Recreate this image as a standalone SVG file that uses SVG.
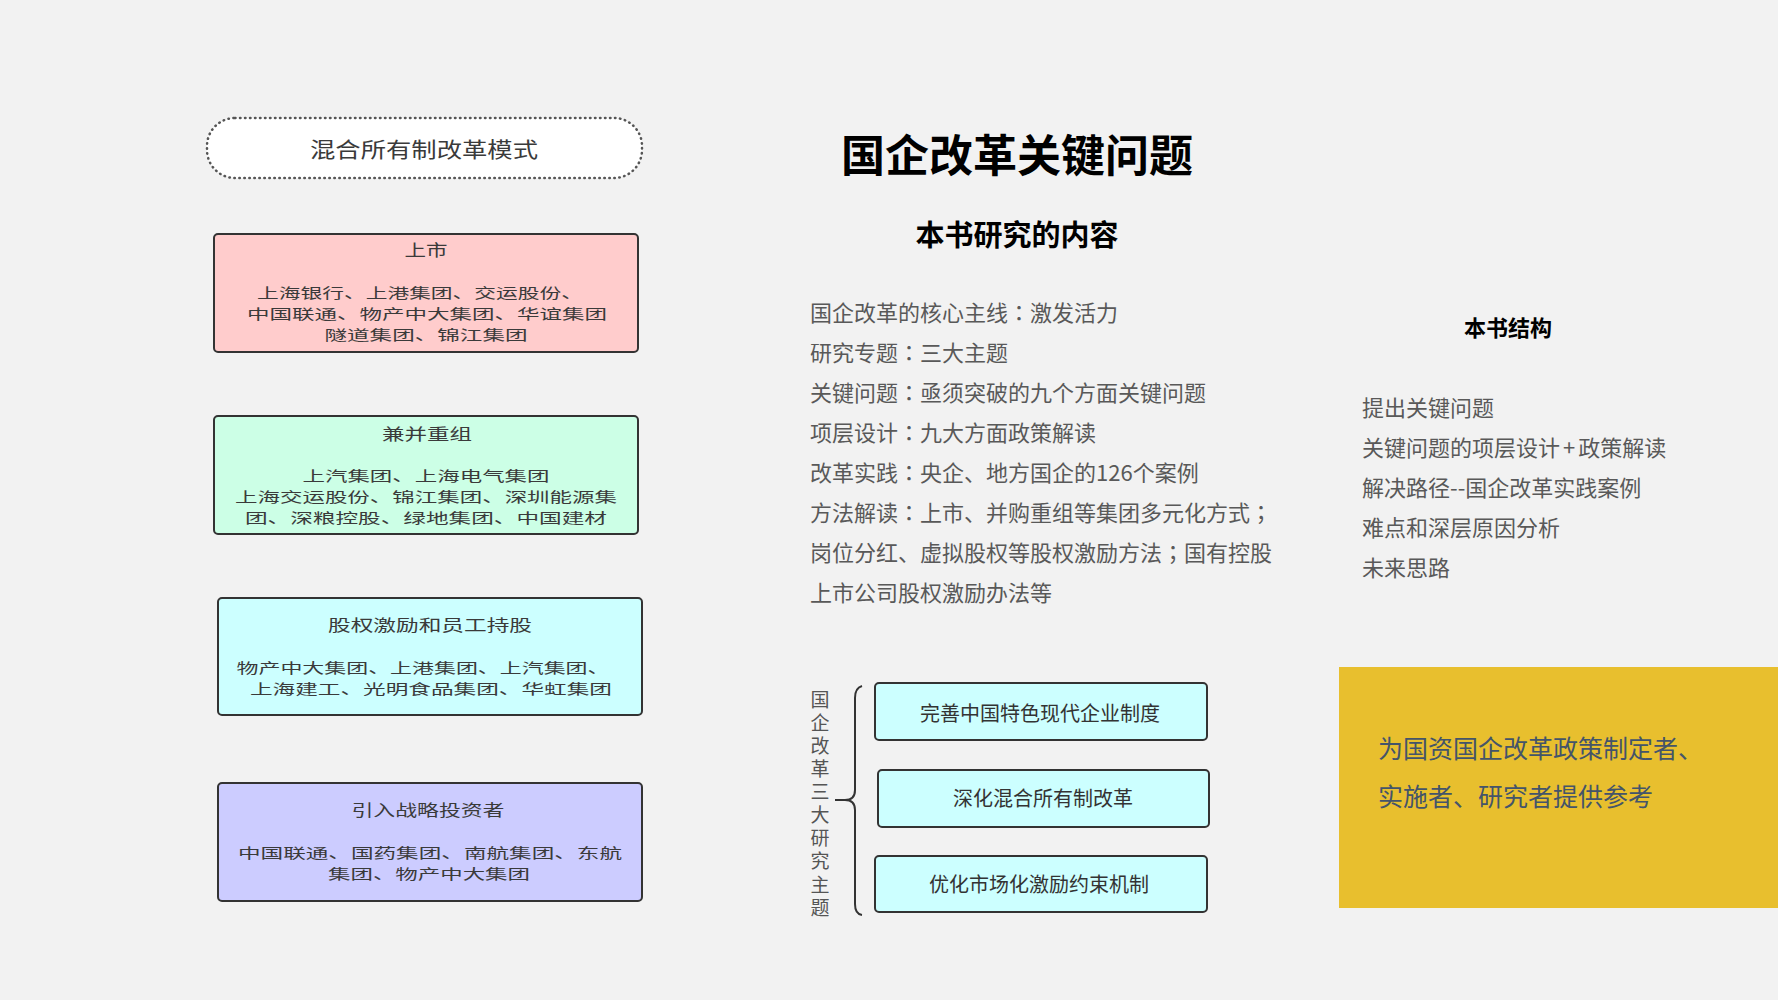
<svg xmlns="http://www.w3.org/2000/svg" width="1778" height="1000" viewBox="0 0 1778 1000">
<style>
.cjk{font-family:"Noto Sans CJK SC","Liberation Sans",sans-serif}
.tc{font-family:"Noto Sans CJK TC","Noto Sans CJK SC",sans-serif}
.box{stroke:#333;stroke-width:2}
.bt{font-size:14px;fill:#3a3a3a;text-anchor:middle}
.bh{font-size:16px;fill:#3a3a3a;text-anchor:middle}
.list{font-size:22px;fill:#595959}
.theme{font-size:20px;fill:#333;text-anchor:middle}
.vt{font-size:19px;fill:#555;writing-mode:vertical-rl;letter-spacing:4.1px}
</style>
<rect width="1778" height="1000" fill="#f2f2f2"/>

<g id="pill" class="cjk">
<rect x="207" y="118" width="435" height="60" rx="28" fill="#fff" stroke="#555" stroke-width="2.5" stroke-dasharray="0.5 4.5" stroke-linecap="round"/>
<text x="424" y="157" font-size="21" fill="#3a3a3a" text-anchor="middle" textLength="228" lengthAdjust="spacingAndGlyphs">混合所有制改革模式</text>
</g>

<g id="node-listing" class="cjk">
<rect class="box" x="214" y="234" width="424" height="118" rx="4" fill="#ffcccc"/>
<text class="bh" x="426" y="256" textLength="43" lengthAdjust="spacingAndGlyphs">上市</text>
<text class="bt" x="420" y="298" textLength="326" lengthAdjust="spacingAndGlyphs">上海银行、上港集团、交运股份、</text>
<text class="bt" x="427" y="319" textLength="360" lengthAdjust="spacingAndGlyphs">中国联通、物产中大集团、华谊集团</text>
<text class="bt" x="426" y="340" textLength="203" lengthAdjust="spacingAndGlyphs">隧道集团、锦江集团</text>
</g>

<g id="node-merge" class="cjk">
<rect class="box" x="214" y="416" width="424" height="118" rx="4" fill="#ccffe6"/>
<text class="bh" x="427" y="440" textLength="90" lengthAdjust="spacingAndGlyphs">兼并重组</text>
<text class="bt" x="426" y="481" textLength="247" lengthAdjust="spacingAndGlyphs">上汽集团、上海电气集团</text>
<text class="bt" x="426" y="502" textLength="382" lengthAdjust="spacingAndGlyphs">上海交运股份、锦江集团、深圳能源集</text>
<text class="bt" x="426" y="523" textLength="362" lengthAdjust="spacingAndGlyphs">团、深粮控股、绿地集团、中国建材</text>
</g>

<g id="node-equity" class="cjk">
<rect class="box" x="218" y="598" width="424" height="117" rx="4" fill="#ccffff"/>
<text class="bh" x="430" y="631" textLength="204" lengthAdjust="spacingAndGlyphs">股权激励和员工持股</text>
<text class="bt" x="423" y="673" textLength="373" lengthAdjust="spacingAndGlyphs">物产中大集团、上港集团、上汽集团、</text>
<text class="bt" x="431" y="694" textLength="362" lengthAdjust="spacingAndGlyphs">上海建工、光明食品集团、华虹集团</text>
</g>

<g id="node-investor" class="cjk">
<rect class="box" x="218" y="783" width="424" height="118" rx="4" fill="#ccccff"/>
<text class="bh" x="428" y="816" textLength="153" lengthAdjust="spacingAndGlyphs">引入战略投资者</text>
<text class="bt" x="430" y="858" textLength="384" lengthAdjust="spacingAndGlyphs">中国联通、国药集团、南航集团、东航</text>
<text class="bt" x="429" y="879" textLength="202" lengthAdjust="spacingAndGlyphs">集团、物产中大集团</text>
</g>

<g id="title" class="cjk">
<text x="1017" y="172" font-size="44" font-weight="bold" fill="#000" text-anchor="middle">国企改革关键问题</text>
<text x="1017" y="246" font-size="29" font-weight="bold" fill="#000" text-anchor="middle">本书研究的内容</text>
</g>

<g id="content-list" class="cjk list">
<text x="810" y="321">国企改革的核心主线<tspan class="tc">：</tspan>激发活力</text>
<text x="810" y="361">研究专题<tspan class="tc">：</tspan>三大主题</text>
<text x="810" y="401">关键问题<tspan class="tc">：</tspan>亟须突破的九个方面关键问题</text>
<text x="810" y="441">项层设计<tspan class="tc">：</tspan>九大方面政策解读</text>
<text x="810" y="481">改革实践<tspan class="tc">：</tspan>央企、地方国企的126个案例</text>
<text x="810" y="521">方法解读<tspan class="tc">：</tspan>上市、并购重组等集团多元化方式<tspan class="tc">；</tspan></text>
<text x="810" y="561">岗位分红、虚拟股权等股权激励方法<tspan class="tc">；</tspan>国有控股</text>
<text x="810" y="601">上市公司股权激励办法等</text>
</g>

<g id="structure" class="cjk">
<text x="1508" y="336" font-size="22" font-weight="bold" fill="#000" text-anchor="middle">本书结构</text>
<g class="list">
<text x="1362" y="416">提出关键问题</text>
<text x="1362" y="456">关键问题的项层设计<tspan dx="3">+</tspan><tspan dx="3">政策解读</tspan></text>
<text x="1362" y="496">解决路径--国企改革实践案例</text>
<text x="1362" y="536">难点和深层原因分析</text>
<text x="1362" y="576">未来思路</text>
</g>
</g>

<g id="themes-label" class="cjk">
<text class="vt" x="820" y="690">国企改革三大研究主题</text>
</g>

<g id="connectors">
<path d="M862,686 Q855,688 855,698 L855,790 Q855,800 845,800 L835,800 M845,800 Q855,800 855,810 L855,904 Q855,914 862,915" fill="none" stroke="#333" stroke-width="2"/>
</g>

<g id="theme-1" class="cjk">
<rect class="box" x="875" y="683" width="332" height="57" rx="4" fill="#ccffff"/>
<text class="theme" x="1040" y="721">完善中国特色现代企业制度</text>
</g>
<g id="theme-2" class="cjk">
<rect class="box" x="878" y="770" width="331" height="57" rx="4" fill="#ccffff"/>
<text class="theme" x="1043" y="806">深化混合所有制改革</text>
</g>
<g id="theme-3" class="cjk">
<rect class="box" x="875" y="856" width="332" height="56" rx="4" fill="#ccffff"/>
<text class="theme" x="1039" y="892">优化市场化激励约束机制</text>
</g>

<g id="purpose" class="cjk">
<rect x="1339" y="667" width="439" height="241" fill="#e8bf2e"/>
<text x="1378" y="758" font-size="25" fill="#44546a">为国资国企改革政策制定者、</text>
<text x="1378" y="806" font-size="25" fill="#44546a">实施者、研究者提供参考</text>
</g>
</svg>
